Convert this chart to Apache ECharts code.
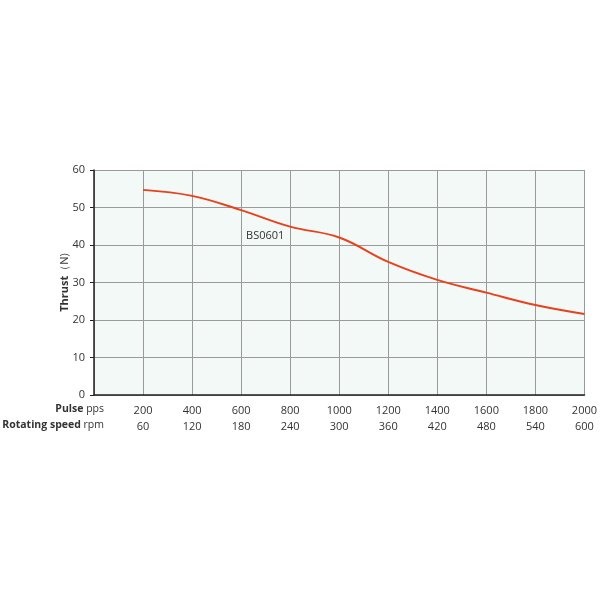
<!DOCTYPE html>
<html><head><meta charset="utf-8">
<script src="https://cdn.jsdelivr.net/npm/echarts@6/dist/echarts.min.js"></script>
<style>html,body{margin:0;padding:0;background:#fff}#c{width:600px;height:600px}</style>
</head><body><div id="c"></div>
<script>
const pulse = [200, 400, 600, 800, 1000, 1200, 1400, 1600, 1800, 2000];
const rpm = [60, 120, 180, 240, 300, 360, 420, 480, 540, 600];
const thrust = [54.7, 53.1, 49.3, 44.9, 42.0, 35.5, 30.7, 27.3, 24.0, 21.6];
const seriesName = 'BS0601';
const labelIndex = 3;

const chart = echarts.init(document.getElementById('c'));
const F = '"Open Sans", "Noto Sans", sans-serif';
chart.setOption({
  animation: false,
  grid: { left: 94, right: 14, top: 170, bottom: 205, show: true, backgroundColor: '#f3f9f7', borderWidth: 0 },
  xAxis: {
    type: 'value', min: 0, max: 2000, interval: 200,
    axisLine: { show: true, lineStyle: { color: '#222', width: 1.5 } },
    axisTick: { show: false },
    splitLine: { show: true, lineStyle: { color: '#9a9a9a', width: 1 } },
    axisLabel: {
      margin: 8, lineHeight: 16, color: '#333', fontSize: 11, fontFamily: F,
      formatter: v => { const i = pulse.indexOf(v); return i < 0 ? '' : pulse[i] + '\n' + rpm[i]; }
    }
  },
  yAxis: {
    type: 'value', min: 0, max: 60, interval: 10,
    name: '{b|Thrust}（N)', nameLocation: 'middle', nameGap: 24, nameRotate: 90, nameMoveOverlap: false,
    nameTextStyle: { color: '#333', fontSize: 11, fontFamily: F, rich: { b: { fontWeight: 'bold', fontSize: 11, fontFamily: F, color: '#333' } } },
    axisLine: { show: true, lineStyle: { color: '#222', width: 1.5 } },
    axisTick: { show: true, length: 4, lineStyle: { color: '#222' } },
    splitLine: { show: true, lineStyle: { color: '#9a9a9a', width: 1 } },
    axisLabel: { margin: 9, color: '#333', fontSize: 11, fontFamily: F }
  },
  graphic: [
    { type: 'text', right: 496, top: 404, style: { text: '{b|Pulse} pps', align: 'right', fill: '#333', font: '10.5px ' + F, rich: { b: { fontWeight: 'bold', fontSize: 10.5, fontFamily: F, fill: '#333' } } } },
    { type: 'text', right: 496, top: 420, style: { text: '{b|Rotating speed} rpm', align: 'right', fill: '#333', font: '10.5px ' + F, rich: { b: { fontWeight: 'bold', fontSize: 10.5, fontFamily: F, fill: '#333' } } } }
  ],
  series: [{
    name: seriesName, type: 'line', smooth: 0.4, showSymbol: false,
    lineStyle: { color: '#e9401e', width: 2 },
    data: pulse.map((p, i) => [p, thrust[i]]),
    markPoint: {
      symbol: 'circle', symbolSize: 2, itemStyle: { color: 'rgba(0,0,0,0)' },
      label: { show: true, formatter: seriesName, position: 'bottom', distance: 3, offset: [-25, 0], color: '#333', fontSize: 11, fontFamily: F },
      data: [{ coord: [pulse[labelIndex], thrust[labelIndex]] }]
    }
  }]
});
</script></body></html>
